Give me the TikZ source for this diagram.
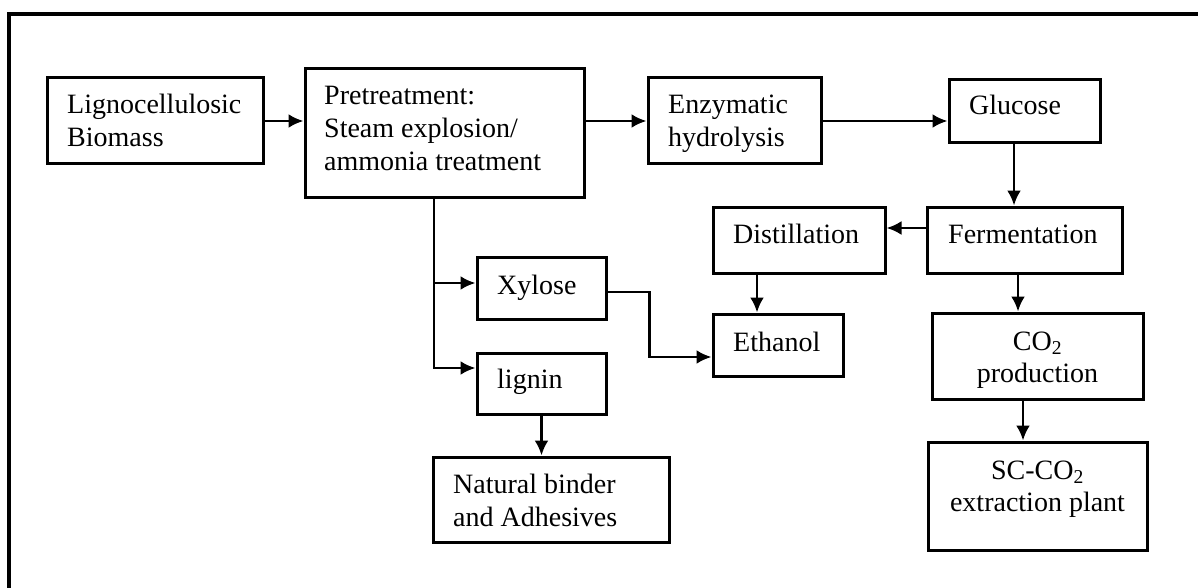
\documentclass[tikz,border=0pt]{standalone}
\usepackage{fontspec}
\setmainfont{Liberation Serif}
\usetikzlibrary{arrows.meta,calc}
\tikzset{
  box/.style={draw, line width=3pt, inner sep=0pt, rectangle},
  txt/.style={inner sep=0pt, font=\fontsize{28}{33}\selectfont, align=left},
  ctxt/.style={inner sep=0pt, font=\fontsize{28}{32}\selectfont, align=center},
  conn/.style={line width=2.8pt, -{Latex[length=15pt,width=14pt]}},
  plain/.style={line width=2.8pt}
}
\begin{document}
\begin{tikzpicture}[x=1pt,y=-1pt]
\useasboundingbox (0,0) rectangle (1198,588);
% outer frame (top and left edges visible)
\draw[line width=4pt] (8.5,588) -- (8.5,14) -- (1198,14);

% boxes
\node[box, minimum width=216pt, minimum height=86pt] (ligno) at (155,121) {};
\node[box, minimum width=279pt, minimum height=128pt] (pre) at (444.5,133) {};
\node[box, minimum width=173pt, minimum height=86pt] (enz) at (734.5,121) {};
\node[box, minimum width=151pt, minimum height=63pt] (glu) at (1024.5,111.5) {};
\node[box, minimum width=172pt, minimum height=66pt] (dist) at (799,240) {};
\node[box, minimum width=195pt, minimum height=66pt] (ferm) at (1024.5,240) {};
\node[box, minimum width=129pt, minimum height=62pt] (xyl) at (541.5,288) {};
\node[box, minimum width=129pt, minimum height=61pt] (lig) at (541.5,383.5) {};
\node[box, minimum width=130pt, minimum height=62pt] (eth) at (778,345) {};
\node[box, minimum width=236pt, minimum height=85pt] (nat) at (551,499.5) {};
\node[box, minimum width=211pt, minimum height=86pt] (co2) at (1037.5,356) {};
\node[box, minimum width=219pt, minimum height=108pt] (sc) at (1037.5,496) {};

% texts (base anchor = baseline of the last line)
\node[txt, anchor=base west] (tligno) at (67,147) {Lignocellulosic\\Biomass};
\node[txt, anchor=base west] (tpre) at (324,171) {Pretreatment:\\Steam explosion/\\ammonia treatment};
\node[txt, anchor=base west] (tenz) at (668,147) {Enzymatic\\hydrolysis};
\node[txt, anchor=base west] (tglu) at (969,115) {Glucose};
\node[txt, anchor=base west] (tdist) at (733,243) {Distillation};
\node[txt, anchor=base west] (tferm) at (948,243) {Fermentation};
\node[txt, anchor=base west] (txyl) at (497,294) {Xylose};
\node[txt, anchor=base west] (tlig) at (497,388) {lignin};
\node[txt, anchor=base west] (teth) at (733,351) {Ethanol};
\node[txt, anchor=base west] (tnat) at (453,526) {Natural binder\\and Adhesives};
\node[ctxt, anchor=base] (tco2) at (1037.5,382) {CO\textsubscript{2}\\production};
\node[ctxt, anchor=base] (tsc) at (1037.5,511) {SC-CO\textsubscript{2}\\extraction plant};

% connectors
\draw[conn] (ligno.east) -- (ligno.east -| pre.west);
\draw[conn] (enz.west -| pre.east) -- (enz.west);
\draw[conn] (enz.east) -- (enz.east -| glu.west);
\draw[conn] ([xshift=-10.5pt]glu.south) -- ([xshift=-10.5pt]glu.south |- ferm.north);
\draw[conn] ([yshift=12pt]ferm.west) -- ([yshift=12pt]ferm.west -| dist.east);
\draw[conn] ([xshift=-42pt]dist.south) -- ([xshift=-42pt]dist.south |- eth.north);
\draw[conn] ([xshift=-6.5pt]ferm.south) -- ([xshift=-6.5pt]ferm.south |- co2.north);
\draw[conn] ([xshift=-14.5pt]co2.south) -- ([xshift=-14.5pt]co2.south |- sc.north);
\draw[conn] (lig.south) -- (lig.south |- nat.north);
% pretreatment branch
\coordinate (br) at ([xshift=-10.5pt]pre.south);
\draw[conn] (br) |- ([yshift=15.5pt]lig.west);
\draw[conn] ([yshift=5pt]xyl.west -| br) -- ([yshift=5pt]xyl.west);
% xylose to ethanol
\draw[conn] ([yshift=-4pt]xyl.east) -- ++(42pt,0) |- ([yshift=-12pt]eth.west);
\end{tikzpicture}
\end{document}
